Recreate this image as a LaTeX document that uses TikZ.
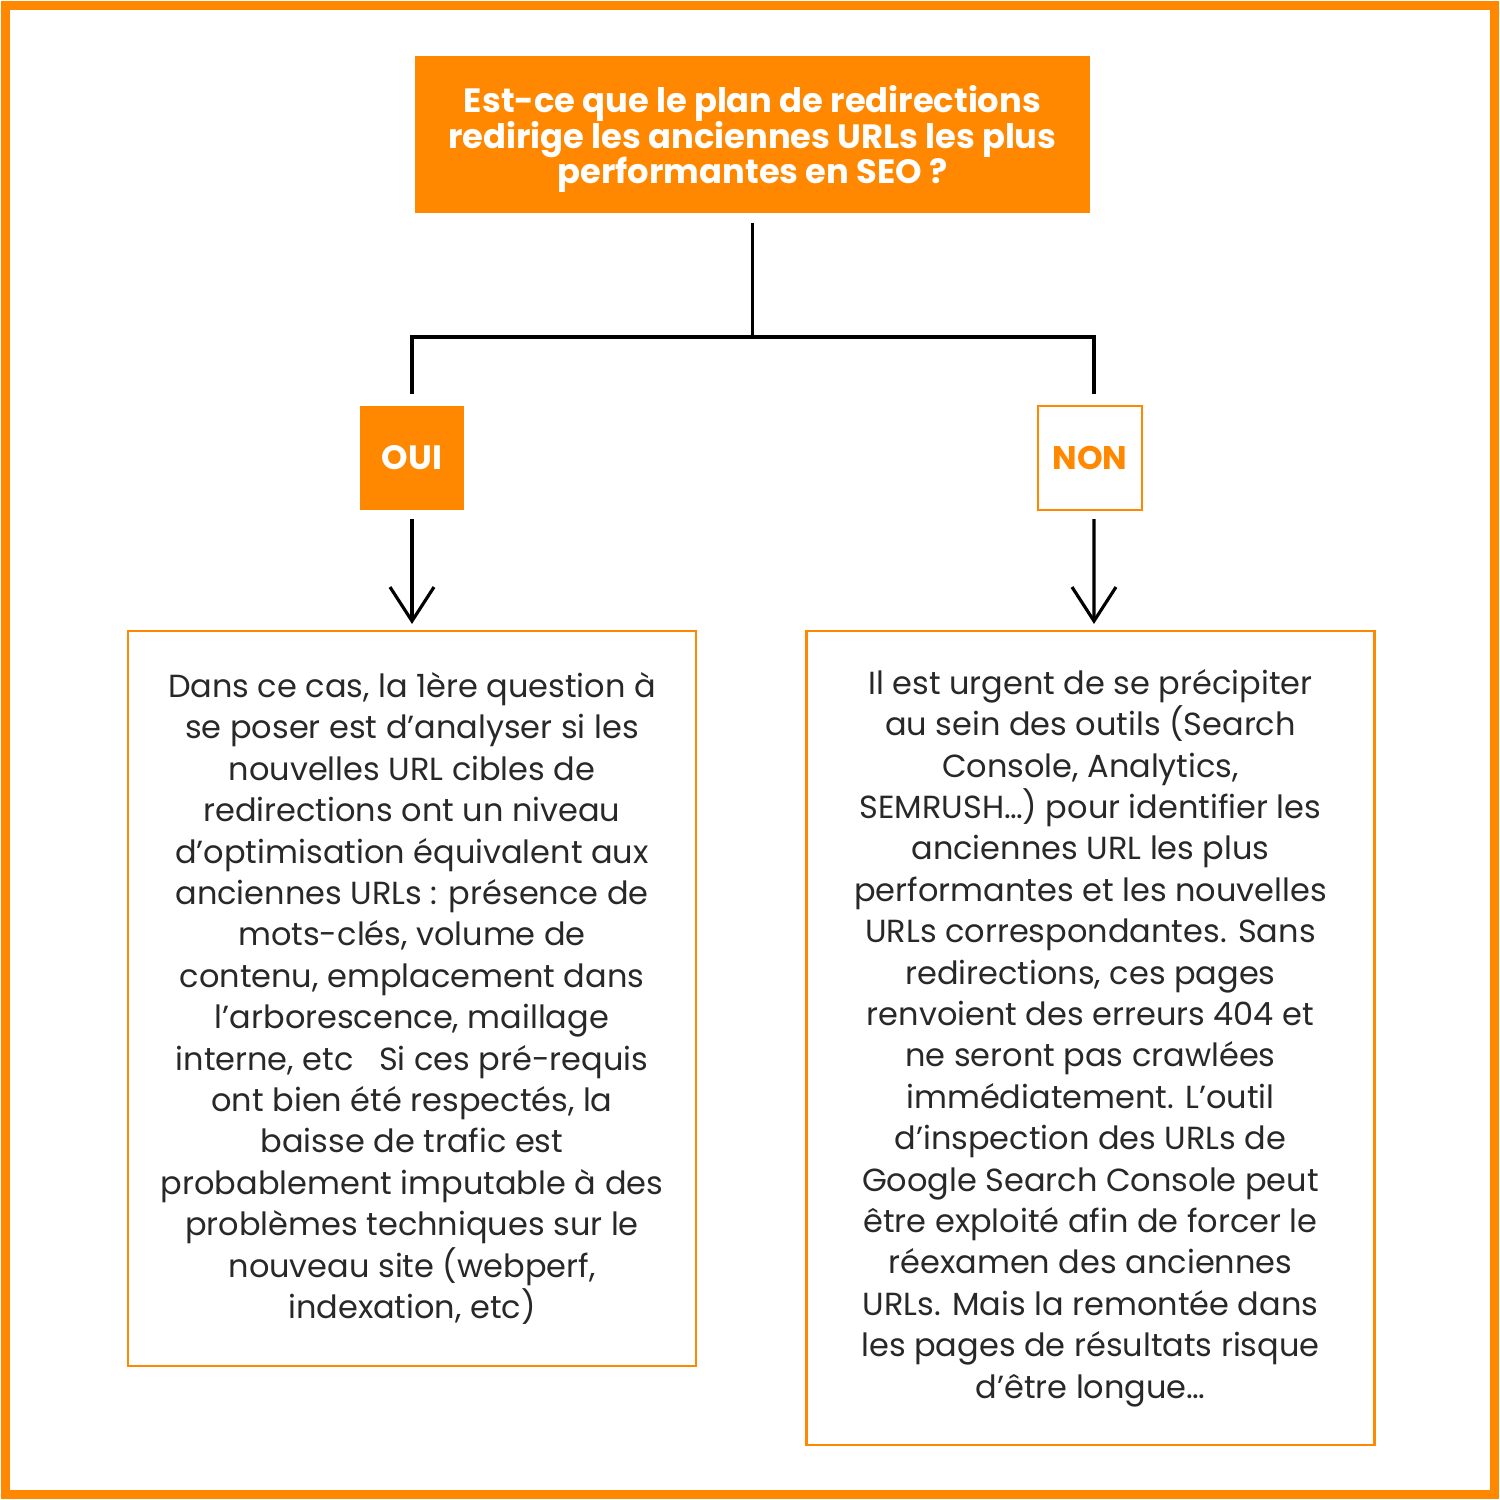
\documentclass[tikz,border=0pt]{standalone}
\usepackage{fontspec}
\setmainfont{Poppins}
\usepackage{tikz}
\usetikzlibrary{arrows.meta}
\definecolor{orange1}{RGB}{255,136,0}
\definecolor{text1}{RGB}{40,40,40}
\newcommand\questionfont{\bfseries\fontsize{9.6}{10.24}\selectfont\lineskiplimit=-5pt\relax}

\tikzset{
  question/.style={fill=orange1, text=white, font=\questionfont,
    align=center, minimum width=6.75cm, minimum height=1.57cm, inner sep=0pt},
  ouibox/.style={fill=orange1, text=white, font=\bfseries\fontsize{9.6}{12}\selectfont,
    minimum size=1.04cm, inner sep=0pt},
  nonbox/.style={draw=orange1, line width=0.6pt, fill=white, text=orange1,
    font=\bfseries\fontsize{9.3}{12}\selectfont, minimum size=1.04cm, inner sep=0pt},
  answer/.style={draw=orange1, line width=0.6pt, text=text1, align=center,
    font=\fontsize{9.1}{11.78}\selectfont, minimum width=5.68cm, inner sep=0pt},
  link/.style={line width=0.9pt, black},
  tip/.style={link, -{Straight Barb[length=3.4mm,width=4.4mm,line width=0.9pt]}}
}

\begin{document}
\begin{tikzpicture}
\useasboundingbox (0,0) rectangle (15,15);
% frame
\draw[orange1, line width=0.09cm] (0.055,0.055) rectangle (14.945,14.945);

% question
\node[question, text depth=-0.03cm] (title) at (7.525,13.655) {Est-ce que le plan de redirections\\
redirige les anciennes URLs les plus\\ performantes en SEO ?};

% two answers
\node[ouibox] (oui) at (4.12,10.42) {OUI};
\node[nonbox] (non) at (10.90,10.42) {NON};

% explanations
\node[answer, minimum height=7.35cm] (caseoui) at (4.12,5.015) {Dans ce cas, la 1ère question à\\
se poser est d’analyser si les\\
nouvelles URL cibles de\\
redirections ont un niveau\\
d’optimisation équivalent aux\\
anciennes URLs : présence de\\
mots-clés, volume de\\
contenu, emplacement dans\\
l’arborescence, maillage\\
interne, etc~~~Si ces pré-requis\\
ont bien été respectés, la\\
baisse de trafic est\\
probablement imputable à des\\
problèmes techniques sur le\\
nouveau site (webperf,\\
indexation, etc)};
\node[answer, minimum height=8.14cm] (casenon) at (10.905,4.62) {Il est urgent de se précipiter\\
au sein des outils (Search\\
Console, Analytics,\\
SEMRUSH…) pour identifier les\\
anciennes URL les plus\\
performantes et les nouvelles\\
URLs correspondantes. Sans\\
redirections, ces pages\\
renvoient des erreurs 404 et\\
ne seront pas crawlées\\
immédiatement. L’outil\\
d’inspection des URLs de\\
Google Search Console peut\\
être exploité afin de forcer le\\
réexamen des anciennes\\
URLs. Mais la remontée dans\\
les pages de résultats risque\\
d’être longue…};

% connectors
\coordinate (fork) at (7.525,11.63);
\draw[link, shorten <=0.09cm] (title.south) -- (fork);
\draw[link, shorten >=0.11cm] (fork) -| (oui.north);
\draw[link, shorten >=0.11cm] (fork) -| ([xshift=0.04cm]non.north);
\draw[tip, shorten <=0.08cm, shorten >=0.06cm] (oui.south) -- (caseoui.north);
\draw[tip, shorten <=0.08cm, shorten >=0.06cm] ([xshift=0.04cm]non.south) -- ([xshift=0.035cm]casenon.north);
\end{tikzpicture}
\end{document}
